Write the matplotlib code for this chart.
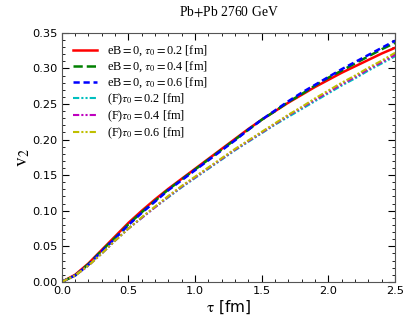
import numpy as np
import matplotlib
matplotlib.use("Agg")
import matplotlib.pyplot as plt

plt.rcParams['mathtext.fontset'] = 'stix'
plt.rcParams['xtick.direction'] = 'in'
plt.rcParams['ytick.direction'] = 'in'

# proper time [fm]
tau = [0.0, 0.1, 0.2, 0.3, 0.4, 0.5, 0.6, 0.7, 0.8, 0.9, 1.0, 1.1, 1.2,
       1.3, 1.4, 1.5, 1.6, 1.7, 1.8, 1.9, 2.0, 2.1, 2.2, 2.3, 2.4, 2.5]

# eB = 0 curves
v2_eb0_02 = [0.000, 0.010, 0.026, 0.045, 0.064, 0.083, 0.100, 0.116, 0.131, 0.145,
             0.159, 0.173, 0.187, 0.201, 0.215, 0.228, 0.240, 0.252, 0.263, 0.274,
             0.284, 0.294, 0.303, 0.312, 0.321, 0.329]
v2_eb0_04 = [0.000, 0.009, 0.025, 0.044, 0.062, 0.081, 0.098, 0.114, 0.130, 0.144,
             0.158, 0.172, 0.186, 0.200, 0.214, 0.228, 0.240, 0.253, 0.264, 0.276,
             0.287, 0.297, 0.307, 0.317, 0.327, 0.336]
v2_eb0_06 = [0.000, 0.009, 0.024, 0.043, 0.061, 0.080, 0.097, 0.113, 0.129, 0.143,
             0.157, 0.171, 0.185, 0.199, 0.214, 0.228, 0.241, 0.254, 0.266, 0.277,
             0.288, 0.299, 0.309, 0.319, 0.329, 0.339]

# (F) curves
v2_f_02 = [0.000, 0.009, 0.023, 0.040, 0.058, 0.075, 0.090, 0.105, 0.119, 0.133,
           0.146, 0.159, 0.172, 0.185, 0.197, 0.209, 0.221, 0.232, 0.243, 0.254,
           0.265, 0.276, 0.286, 0.297, 0.307, 0.317]
v2_f_04 = [0.000, 0.009, 0.023, 0.040, 0.058, 0.075, 0.090, 0.105, 0.120, 0.134,
           0.147, 0.160, 0.173, 0.186, 0.198, 0.210, 0.222, 0.234, 0.245, 0.256,
           0.267, 0.278, 0.288, 0.299, 0.309, 0.319]
v2_f_06 = [0.000, 0.009, 0.023, 0.040, 0.058, 0.075, 0.091, 0.106, 0.121, 0.135,
           0.148, 0.161, 0.174, 0.187, 0.199, 0.211, 0.223, 0.235, 0.246, 0.258,
           0.269, 0.280, 0.290, 0.301, 0.311, 0.322]

fig = plt.figure(figsize=(4.15, 3.32), dpi=100)
ax = fig.add_axes([0.149, 0.151, 0.803, 0.75])

ddot = (0, (3, 1, 1, 1, 1, 1))
ax.plot(tau, v2_eb0_02, color='r', lw=1.8, ls='-', label=r'eB$=$0, $\tau_0=$0.2 [fm]')
ax.plot(tau, v2_eb0_04, color='g', lw=1.8, ls='--', label=r'eB$=$0, $\tau_0=$0.4 [fm]')
ax.plot(tau, v2_eb0_06, color='b', lw=1.8, ls=(0, (2.5, 1.5)), label=r'eB$=$0, $\tau_0=$0.6 [fm]')
ax.plot(tau, v2_f_02, color='c', lw=1.5, ls=ddot, label=r'(F)$\tau_0=$0.2 [fm]')
ax.plot(tau, v2_f_04, color='m', lw=1.5, ls=ddot, label=r'(F)$\tau_0=$0.4 [fm]')
ax.plot(tau, v2_f_06, color='y', lw=1.5, ls=ddot, label=r'(F)$\tau_0=$0.6 [fm]')

ax.set_xlim(0, 2.5)
ax.set_ylim(0, 0.35)
ax.set_xticks(np.arange(0, 2.51, 0.5))
ax.set_yticks(np.arange(0, 0.351, 0.05))
ax.minorticks_on()
ax.tick_params(which='both', top=True, right=True, labelsize=8.2)
ax.tick_params(which='major', length=5, pad=3)
ax.tick_params(which='minor', length=2.5)
for sp in ax.spines.values():
    sp.set_color('#555555')

ax.set_xlabel(r'$\mathrm{\tau}$ [fm]', fontsize=11, labelpad=2)
ax.set_ylabel(r'$\mathrm{v_2}$', fontsize=14, labelpad=0)
ax.set_title('Pb$+$Pb 2760 GeV', fontsize=9.8, family='Liberation Serif', pad=12)

ax.legend(loc='upper left', frameon=False, prop={'family': 'Liberation Serif', 'size': 8.8},
          labelspacing=0.12, handlelength=2.0, handletextpad=0.8, borderaxespad=0.5)

fig.savefig('out.png', dpi=100)
